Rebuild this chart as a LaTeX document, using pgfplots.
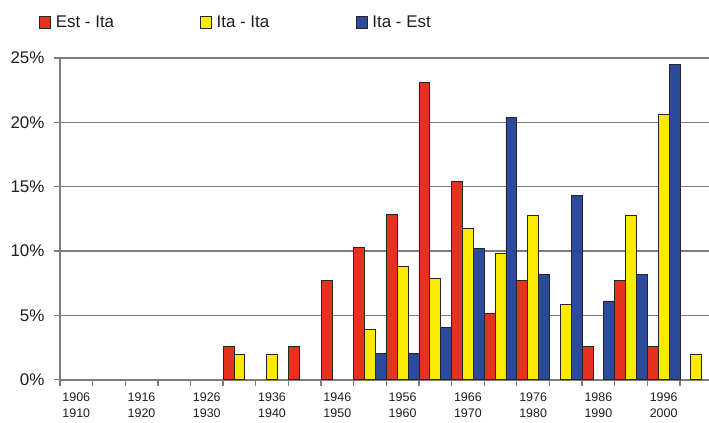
\documentclass[border=0pt]{standalone}
\usepackage{fontspec}
\setmainfont{Liberation Sans}
\usepackage{pgfplots}
\pgfplotsset{compat=1.18}

\definecolor{cred}{RGB}{228,50,30}
\definecolor{cyel}{RGB}{250,234,0}
\definecolor{cblu}{RGB}{44,74,155}
\definecolor{cgrid}{RGB}{125,125,125}
\definecolor{ctxt}{RGB}{30,30,30}

% slot k = period 1906+5k ... 1910+5k
\pgfplotstableread{
k v
5 2.56
7 2.56
8 7.69
9 10.26
10 12.82
11 23.08
12 15.38
13 5.13
14 7.69
16 2.56
17 7.69
18 2.56
}\estita
\pgfplotstableread{
k v
5 1.96
6 1.96
9 3.92
10 8.82
11 7.84
12 11.76
13 9.80
14 12.75
15 5.88
17 12.75
18 20.59
19 1.96
}\itaita
\pgfplotstableread{
k v
9 2.04
10 2.04
11 4.08
12 10.20
13 20.41
14 8.16
15 14.29
16 6.12
17 8.16
18 24.49
}\itaest

\begin{document}
\begin{tikzpicture}
\useasboundingbox (-60bp,-43bp) rectangle (649bp,379.7bp);
\begin{axis}[
    scale only axis,
    width=649bp, height=321.7bp,
    xmin=-0.5, xmax=19.39,
    ymin=0, ymax=25,
    axis x line*=bottom, axis y line*=left,
    axis line style={cgrid, line width=1.6bp, -},
    ymajorgrids,
    grid style={cgrid, line width=1.3bp},
    tick align=outside,
    major tick length=6bp,
    tick style={cgrid, line width=1.3bp},
    ytick={0,5,...,25},
    yticklabel={\pgfmathprintnumber{\tick}\%},
    yticklabel style={font=\fontsize{17}{19}\selectfont, text=ctxt, xshift=-6bp},
    xtick={-0.5,0.5,...,18.5},
    xticklabels={{1906\\1910},{},{1916\\1920},{},{1926\\1930},{},{1936\\1940},{},{1946\\1950},{},{1956\\1960},{},{1966\\1970},{},{1976\\1980},{},{1986\\1990},{},{1996\\2000}},
    xticklabel style={font=\fontsize{12.5}{16}\selectfont, text=ctxt, align=center, xshift=16.3bp, yshift=-4bp},
    /pgf/number format/assume math mode=true,
    ybar, bar width=0.333,
    every axis plot/.append style={draw=black!85, line width=0.8bp},
    legend columns=3,
    legend style={draw=none, fill=none, inner sep=0pt, outer sep=0pt,
        at={(rel axis cs:0,1)}, anchor=west, xshift=-21bp, yshift=36bp,
        font=\fontsize{17}{19}\selectfont, text=ctxt,
        nodes={inner sep=0pt}, column sep=0pt},
    legend image code/.code={\draw[#1, line width=0.8bp] (0bp,-6bp) rectangle (11bp,6bp);},
]
\addplot[fill=cred, bar shift=-0.333] table[x=k, y=v] {\estita};
\addlegendentry{\hspace{5bp}\makebox[144bp][l]{Est - Ita}}
\addplot[fill=cyel, bar shift=0] table[x=k, y=v] {\itaita};
\addlegendentry{\hspace{5bp}\makebox[139bp][l]{Ita - Ita}}
\addplot[fill=cblu, bar shift=0.333] table[x=k, y=v] {\itaest};
\addlegendentry{\hspace{5bp}Ita - Est}
\end{axis}
\end{tikzpicture}
\end{document}
